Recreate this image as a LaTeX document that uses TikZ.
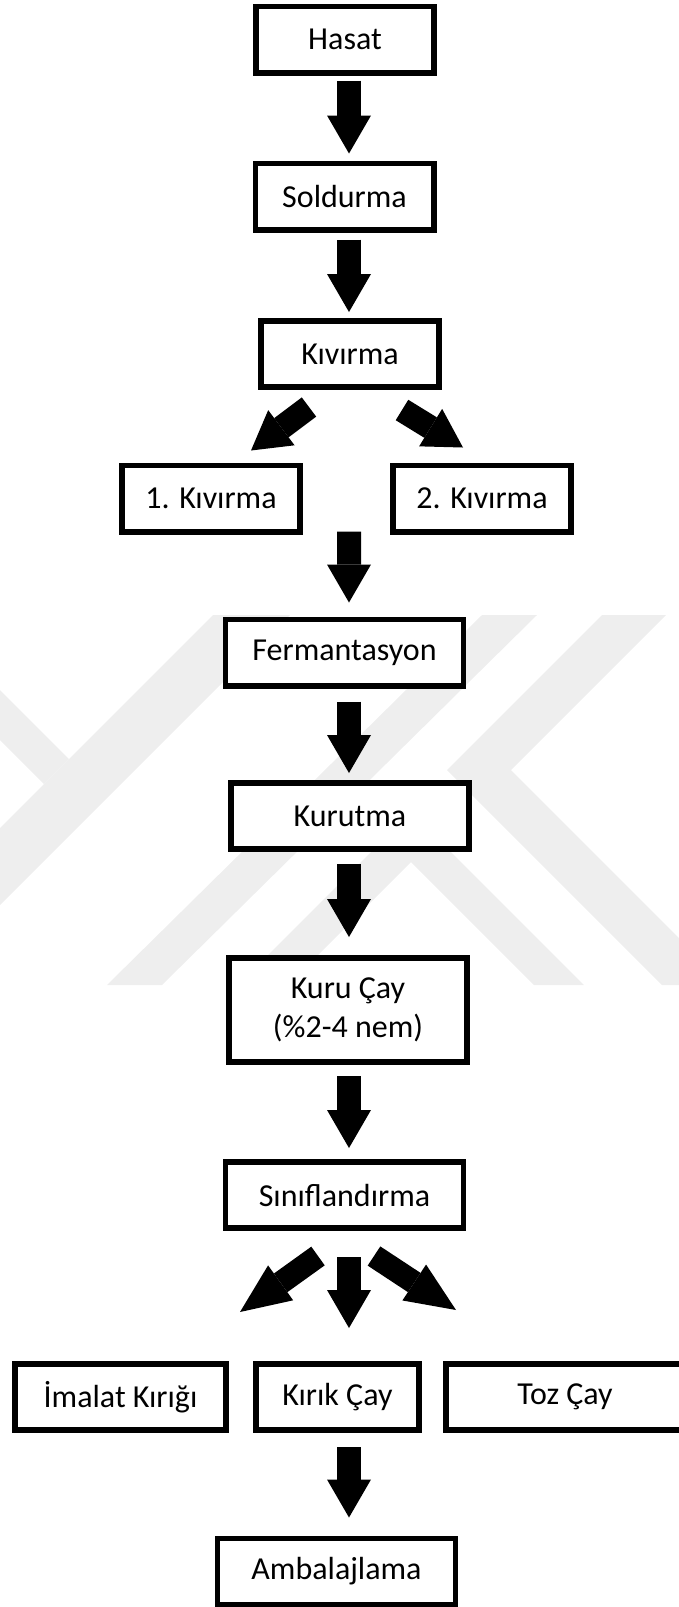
\documentclass[tikz,border=0pt]{standalone}
\usepackage{fontspec}
\setmainfont{Carlito}
\usetikzlibrary{arrows.meta,calc}
\definecolor{filigran}{HTML}{EEEEEE}
\newcommand{\yazi}{\fontsize{16}{19.5}\selectfont}
\tikzset{
    kutu/.style ={rectangle, draw, line width=2.8pt, fill=white, inner sep=0pt, minimum height=33.2pt, align=center, font=\yazi},
    kutuA/.style ={kutu, minimum width=89.2pt},
    kutuB/.style ={kutu, minimum width=119pt},
    ok/.style ={line width=12pt, -{Triangle[length=19pt, width=22pt, line width=0pt]}},
    okU/.style ={line width=11.5pt, -{Triangle[length=25pt, width=21.5pt, line width=0pt]}}}
\begin{document}
\begin{tikzpicture}[x=0.5pt,y=-0.5pt]
        \useasboundingbox (0,0) rectangle (679,1607);
        \clip (0,0) rectangle (679,1607);
        \fill[filigran] (213,615) -- (290,615) -- (0,905) -- (0,828) -- cycle;
        \fill[filigran] (0,690) -- (69,759) -- (44,784) -- (0,740) -- cycle;
        \fill[filigran] (482,615) -- (537,615) -- (162,985) -- (107,985) -- cycle;
        \fill[filigran] (602,615) -- (666,615) -- (511,770) -- (726,985) -- (662,985) -- (447,770) -- cycle;
        \fill[filigran] (411,812) -- (584,985) -- (534,985) -- (411,862) -- (288,985) -- (238,985) -- cycle;
        \node[kutuA] (hasat) at (345,39.5) {Hasat};
        \node[kutuA] (soldurma) at (344.5,196.5) {Soldurma};
        \node[kutuA] (kivirma) at (350,354) {Kıvırma};
        \node[kutuA] (kivirma1) at (211,498.5) {1. Kıvırma};
        \node[kutuA] (kivirma2) at (482,498.5) {2. Kıvırma};
        \node[kutuB] (ferment) at (344.5,652.5) {Fermantasyon};
        \node[kutuB] (kurutma) at (350,816) {Kurutma};
        \node[kutuB, minimum height=52.2pt] (kurucay) at (348,1010) {Kuru Çay\\(\%2-4 nem)};
        \node[kutuB] (sinif) at (344.5,1195) {Sınıflandırma};
        \node[kutu, minimum width=105.7pt] (imalat) at (120.5,1397) {İmalat Kırığı};
        \node[kutu, minimum width=81.7pt] (kirik) at (337.5,1397) {Kırık Çay};
        \node[kutuB] (toz) at (565,1397) {Toz Çay};
        \node[kutuB] (ambalaj) at (336.5,1571.5) {Ambalajlama};
        \draw[ok] ($(hasat.south)+(4,5)$) -- ($(soldurma.north)+(4.5,-7)$);
        \draw[ok] ($(soldurma.south)+(4.5,7)$) -- ($(kivirma.north)+(-1,-6)$);
        \draw[ok] ($(kivirma.south)+(-41,17)$) -- ($(kivirma1.north)+(40,-12)$);
        \draw[ok] ($(kivirma.south)+(52,20)$) -- ($(kivirma2.north)+(-19,-15)$);
        \draw[ok] ($(kivirma1.south east)!.5!(kivirma2.south west)+(2.5,-3)$) -- ($(ferment.north)+(4.5,-14)$);
        \draw[ok] ($(ferment.south)+(4.5,13)$) -- ($(kurutma.north)+(-1,-7)$);
        \draw[ok] ($(kurutma.south)+(-1,12)$) -- ($(kurucay.north)+(1,-18)$);
        \draw[ok] ($(kurucay.south)+(1,11)$) -- ($(sinif.north)+(4.5,-11)$);
        \draw[okU] ($(sinif.south)+(-26.5,25)$) -- ($(imalat.north)+(119.5,-49)$);
        \draw[ok] ($(sinif.south)+(4.5,26)$) -- ($(kirik.north)+(11.5,-33)$);
        \draw[okU] ($(sinif.south)+(29.5,25)$) -- ($(toz.north)+(-109,-51)$);
        \draw[ok] ($(kirik.south)+(11.5,14)$) -- ($(ambalaj.north)+(12.5,-18)$);
    \end{tikzpicture}
\end{document}
